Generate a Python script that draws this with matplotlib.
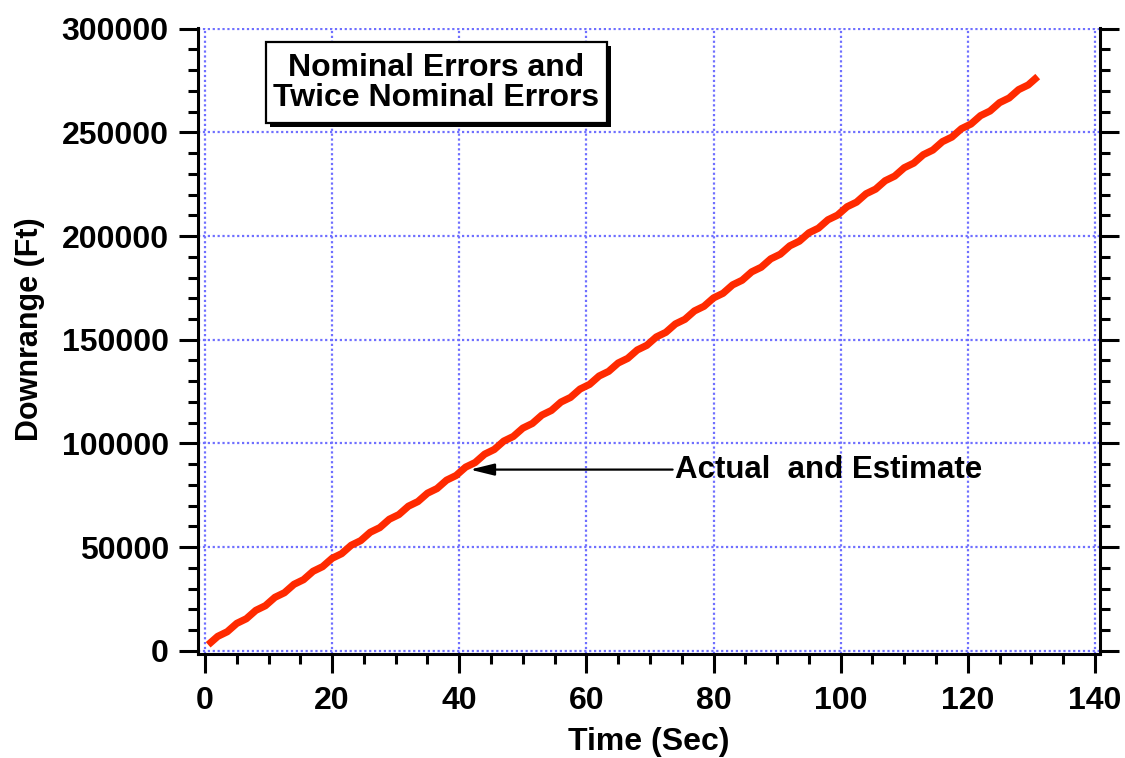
import matplotlib
matplotlib.use("Agg")
import matplotlib.pyplot as plt
from matplotlib.patches import Rectangle
from matplotlib.ticker import MultipleLocator

# Downrange history (actual and estimate overlap)
time_s = [0.5 + 1.5 * i for i in range(88)]
downrange_ft = [
    2950, 6990, 9230, 13260, 15500, 19540, 21780, 25820, 28050, 32090,
    34330, 38370, 40610, 44640, 46880, 50920, 53160, 57200, 59430, 63470,
    65710, 69750, 71990, 76020, 78260, 82300, 84540, 88580, 90810, 94850,
    97090, 101130, 103370, 107400, 109640, 113680, 115920, 119960, 122190, 126230,
    128470, 132510, 134750, 138780, 141020, 145060, 147300, 151340, 153570, 157610,
    159850, 163890, 166130, 170160, 172400, 176440, 178680, 182720, 184950, 188990,
    191230, 195270, 197510, 201540, 203780, 207820, 210060, 214100, 216330, 220370,
    222610, 226650, 228890, 232920, 235160, 239200, 241440, 245480, 247710, 251750,
    253990, 258030, 260270, 264300, 266540, 270580, 272820, 276860,
]

x_ticks = [0, 20, 40, 60, 80, 100, 120, 140]
y_ticks = [0, 50000, 100000, 150000, 200000, 250000, 300000]

title_lines = "Nominal Errors and\nTwice Nominal Errors"
note_text = "Actual  and Estimate"
note_tip = (41.7, 87400)
note_pos = (74.0, 87400)

plt.rcParams["font.family"] = ["Liberation Sans", "DejaVu Sans"]
plt.rcParams["font.weight"] = "bold"

fig = plt.figure(figsize=(11.25, 7.58), dpi=100)
ax = fig.add_axes([0.176, 0.1372, 0.8018, 0.8259])

ax.plot(time_s, downrange_ft, color="#ff2a00", lw=5.2, solid_capstyle="butt",
        solid_joinstyle="round", zorder=3)

ax.set_xlim(-1.1, 140.8)
ax.set_ylim(-1500, 300300)
ax.set_xticks(x_ticks)
ax.set_yticks(y_ticks)
ax.xaxis.set_minor_locator(MultipleLocator(5))
ax.yaxis.set_minor_locator(MultipleLocator(10000))
ax.set_xticklabels([str(v) for v in x_ticks])
ax.set_yticklabels([str(v) for v in y_ticks])

ax.grid(True, which="major", color="#6f6fff", linestyle=(0, (1, 1.2)), lw=1.6, zorder=1)

for side in ("left", "bottom", "right"):
    ax.spines[side].set_linewidth(2.2)
ax.spines["top"].set_visible(False)

ax.tick_params(axis="both", which="major", direction="out", length=14, width=2.2,
               labelsize=23)
ax.tick_params(axis="both", which="minor", direction="out", length=7, width=2.2)
ax.tick_params(axis="y", which="both", right=True, labelright=False, pad=7)
ax.tick_params(axis="x", which="major", pad=9)

ax.set_xlabel("Time (Sec)", fontsize=23, fontweight="bold", labelpad=8)
ax.set_ylabel("Downrange (Ft)", fontsize=22, fontweight="bold")
ax.yaxis.set_label_coords(-0.17, 0.519)

# Title box with drop shadow
bx0, by0, bw, bh = 0.0754, 0.848, 0.378, 0.1296
sx = 4 / 902
sy = 4 / 626
ax.add_patch(Rectangle((bx0 + sx, by0 - sy), bw, bh, transform=ax.transAxes,
                       facecolor="black", edgecolor="black", lw=0, zorder=4))
ax.add_patch(Rectangle((bx0, by0), bw, bh, transform=ax.transAxes,
                       facecolor="white", edgecolor="black", lw=1.6, zorder=5))
ax.text(bx0 + bw / 2, by0 + bh / 2, title_lines, transform=ax.transAxes,
        ha="center", va="center", fontsize=23, fontweight="bold",
        linespacing=1.0, zorder=6)

ax.annotate(note_text, xy=note_tip, xytext=note_pos, fontsize=22.5, fontweight="bold",
            ha="left", va="center", zorder=6,
            arrowprops=dict(arrowstyle="-|>,head_length=0.65,head_width=0.16",
                            color="black", lw=1.6, shrinkA=0, shrinkB=0))

fig.savefig("out.png", dpi=100)
